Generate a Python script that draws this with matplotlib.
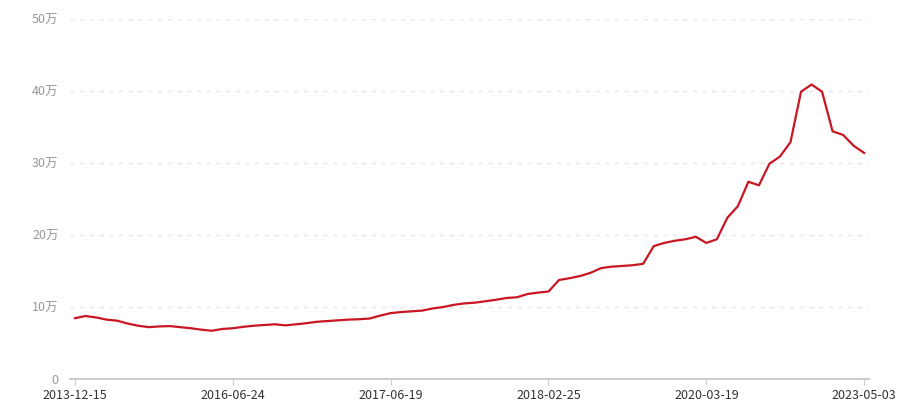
import matplotlib.pyplot as plt
import numpy as np

plt.rcParams['font.family'] = ['Noto Sans CJK SC', 'DejaVu Sans']

# values in 万, one per category point
values = [8.45, 8.75, 8.55, 8.25, 8.1, 7.7, 7.4, 7.2, 7.3, 7.35,
          7.2, 7.05, 6.85, 6.7, 6.95, 7.05, 7.25, 7.4, 7.5, 7.6,
          7.45, 7.6, 7.75, 7.95, 8.05, 8.15, 8.25, 8.3, 8.4, 8.8,
          9.15, 9.3, 9.4, 9.5, 9.8, 10.0, 10.3, 10.5, 10.6, 10.8,
          11.0, 11.25, 11.35, 11.8, 12.0, 12.15, 13.75, 14.0, 14.3, 14.75,
          15.4, 15.6, 15.7, 15.8, 16.0, 18.45, 18.9, 19.2, 19.4, 19.75,
          18.9, 19.4, 22.4, 24.0, 27.4, 26.9, 29.9, 30.9, 32.9, 39.9,
          40.9, 39.9, 34.4, 33.9, 32.4, 31.4]
date_labels = ['2013-12-15', '2016-06-24', '2017-06-19', '2018-02-25', '2020-03-19', '2023-05-03']
y_ticks = [0, 10, 20, 30, 40, 50]
y_labels = ['0', '10万', '20万', '30万', '40万', '50万']

x = np.arange(len(values))
label_step = 15

fig = plt.figure(figsize=(9, 4), dpi=100)
ax = fig.add_axes([0.0775, 0.0525, 0.8885, 0.9])

ax.plot(x, values, color='#c81623', linewidth=1.6, zorder=3)

ax.set_xlim(-0.5, len(values) - 0.5)
ax.set_ylim(0, 50)

ax.set_xticks(x[::label_step])
ax.set_xticklabels(date_labels)
ax.set_yticks(y_ticks)
ax.set_yticklabels(y_labels)

ax.grid(axis='y', linestyle=(0, (3, 4)), color='#e6e6e6', linewidth=1)
ax.set_axisbelow(True)

for s in ['top', 'right', 'left']:
    ax.spines[s].set_visible(False)
ax.spines['bottom'].set_color('#cccccc')
ax.spines['bottom'].set_linewidth(1.5)

ax.tick_params(axis='y', length=0, pad=8, labelsize=9, labelcolor='#999999')
ax.tick_params(axis='x', length=4, color='#cccccc', pad=3, labelsize=9, labelcolor='#333333')

fig.savefig('out.png', dpi=100)
